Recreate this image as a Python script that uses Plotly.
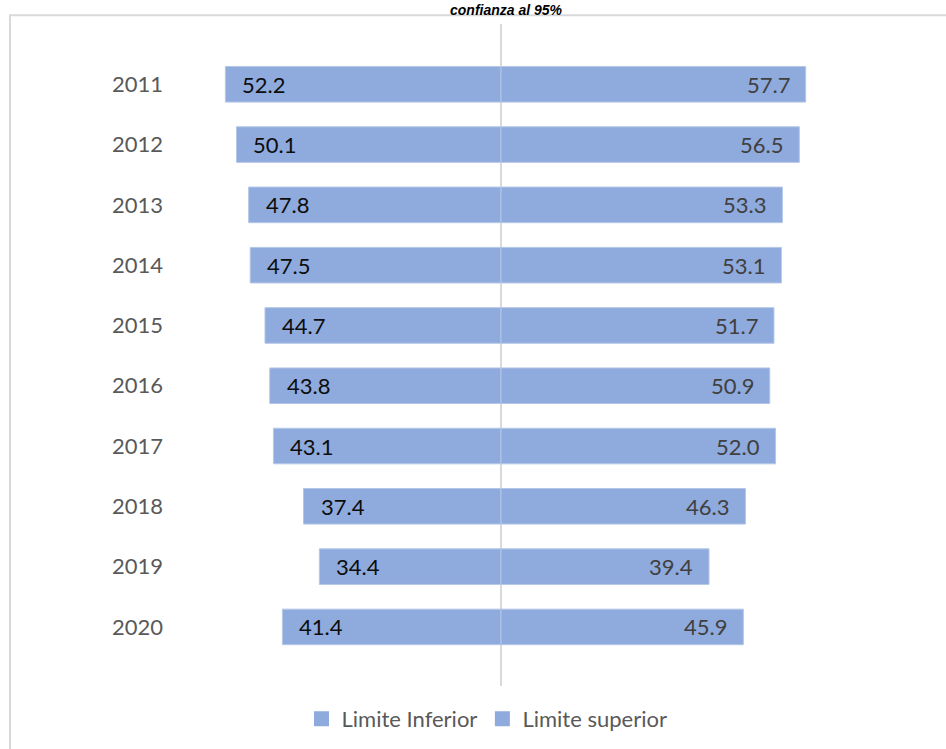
import plotly.graph_objects as go

years = ["2011", "2012", "2013", "2014", "2015", "2016", "2017", "2018", "2019", "2020"]
limite_inferior = [52.2, 50.1, 47.8, 47.5, 44.7, 43.8, 43.1, 37.4, 34.4, 41.4]
limite_superior = [57.7, 56.5, 53.3, 53.1, 51.7, 50.9, 52.0, 46.3, 39.4, 45.9]
series_names = ["Limite Inferior", "Limite superior"]
title_text = "confianza al 95%"

BAR = "#8FAADC"
FONT = "Lato"
L, R, T, B = 170, 16, 24, 51
PW = 946 - L - R
PH = 749 - T - B

fig = go.Figure()
fig.add_trace(go.Bar(
    y=years, x=[-v for v in limite_inferior], orientation="h", name=series_names[0],
    marker=dict(color=BAR, line=dict(color="#B4C7E7", width=1)), width=0.59,
    hoverinfo="skip", showlegend=False,
))
fig.add_trace(go.Bar(
    y=years, x=limite_superior, orientation="h", name=series_names[1],
    marker=dict(color=BAR, line=dict(color="#B4C7E7", width=1)), width=0.59,
    hoverinfo="skip", showlegend=False,
))
# legend entries with larger square symbols
for nm in series_names:
    fig.add_trace(go.Scatter(x=[None], y=[None], mode="markers", name=nm,
                             marker=dict(symbol="square", size=15, color=BAR)))

annotations = []
for i, v in enumerate(limite_inferior):
    annotations.append(dict(x=-v, y=i, xref="x", yref="y", text=f"{v:.1f}", showarrow=False,
                            xanchor="left", xshift=15, font=dict(family=FONT, size=22, color="#0d0d0d")))
for i, v in enumerate(limite_superior):
    annotations.append(dict(x=v, y=i, xref="x", yref="y", text=f"{v:.1f}", showarrow=False,
                            xanchor="right", xshift=-14, font=dict(family=FONT, size=22, color="#404040")))
annotations.append(dict(x=(506 - L) / PW, y=1, xref="paper", yref="paper", text=f"<b><i>{title_text}</i></b>",
                        showarrow=False, xanchor="center", yanchor="bottom", yshift=5, borderpad=0,
                        font=dict(family="Liberation Sans, Arial", size=14, color="#000000")))

fig.update_layout(
    width=946, height=749,
    margin=dict(l=L, r=R, t=T, b=B),
    paper_bgcolor="white", plot_bgcolor="white",
    barmode="overlay",
    showlegend=True,
    legend=dict(orientation="h", xref="container", yref="container", x=487 / 946, y=1 - 719 / 749,
                xanchor="center", yanchor="middle", font=dict(family=FONT, size=22, color="#595959"),
                traceorder="normal"),
    xaxis=dict(range=[-62.69, 81.25], showgrid=False, showticklabels=False, ticks="",
               zeroline=True, zerolinecolor="#D9D9D9", zerolinewidth=2, fixedrange=True),
    yaxis=dict(range=[9.98, -1.0], autorange=False, showgrid=False, ticks="", zeroline=False,
               tickfont=dict(family=FONT, size=22, color="#595959"), ticklabelstandoff=6,
               type="category", categoryorder="array", categoryarray=years, fixedrange=True),
    annotations=annotations,
    shapes=[dict(type="rect", xref="paper", yref="paper",
                 x0=(10 - L) / PW, x1=1.2, y0=-0.3, y1=1 + (T - 15) / PH,
                 line=dict(color="#D9D9D9", width=2), fillcolor="rgba(0,0,0,0)", layer="below")],
)

fig.write_html("out.html", config={"displayModeBar": False},
               post_script="document.body.style.margin='0';")
